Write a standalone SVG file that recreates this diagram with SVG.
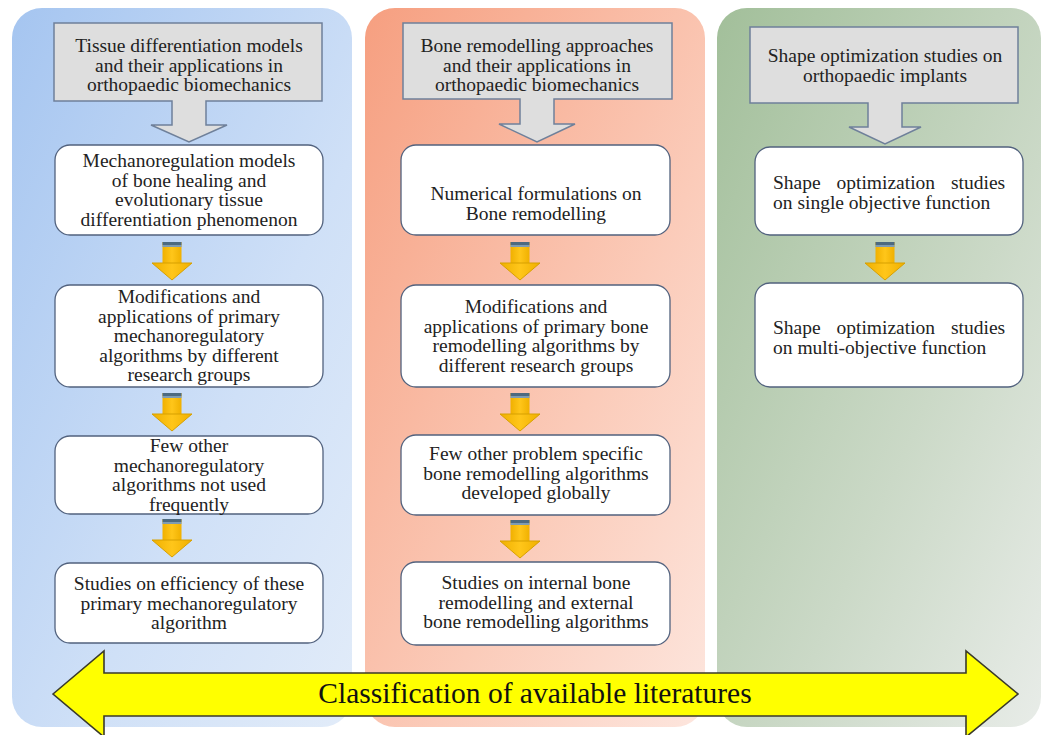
<svg xmlns="http://www.w3.org/2000/svg" width="1048" height="735" viewBox="0 0 1048 735" font-family="'Liberation Serif', 'Times New Roman', Times, 'DejaVu Serif', serif">
<defs>
<linearGradient id="gBlue" x1="0" y1="0" x2="1" y2="1">
<stop offset="0" stop-color="#a5c5f0"/>
<stop offset="0.6" stop-color="#cfe0f7"/>
<stop offset="1" stop-color="#e2ecf9"/>
</linearGradient>
<linearGradient id="gOrange" x1="0" y1="0" x2="1" y2="1">
<stop offset="0" stop-color="#f69f80"/>
<stop offset="0.6" stop-color="#fbcbb9"/>
<stop offset="1" stop-color="#fde6de"/>
</linearGradient>
<linearGradient id="gGreen" x1="0" y1="0" x2="1" y2="1">
<stop offset="0" stop-color="#a2bf9a"/>
<stop offset="0.6" stop-color="#cbd9c7"/>
<stop offset="1" stop-color="#e8ece8"/>
</linearGradient>
<linearGradient id="gYel" x1="0" y1="0" x2="1" y2="0">
<stop offset="0" stop-color="#f0b000"/>
<stop offset="0.5" stop-color="#ffc61a"/>
<stop offset="1" stop-color="#f0b000"/>
</linearGradient>
<g id="ya">
<rect x="-9.5" y="0" width="19" height="22" fill="url(#gYel)"/>
<rect x="-9.5" y="0" width="19" height="3" fill="#4d6a80"/>
<rect x="-9.5" y="3" width="19" height="2" fill="#7f9cb2"/>
<polygon points="-20,21 20,21 0,38" fill="url(#gYel)" stroke="#d7a000" stroke-width="1"/>
</g>
</defs>
<style>
.hdr{fill:#dedede;stroke:#6f809a;stroke-width:1.5}
.box{fill:#ffffff;stroke:#52627e;stroke-width:1.3}
text{font-family:'Liberation Serif','Times New Roman',Times,'DejaVu Serif',serif;font-size:19.5px;fill:#222;text-anchor:middle}
.j{text-anchor:start}
.big{font-size:29.5px;fill:#111}
</style>

<g id="panels">
<rect x="12" y="8" width="340" height="719" rx="30" fill="url(#gBlue)"/>
<rect x="365" y="8" width="340" height="719" rx="30" fill="url(#gOrange)"/>
<rect x="717" y="8" width="324" height="719" rx="30" fill="url(#gGreen)"/>
</g>

<g id="hdr1">
<path class="hdr" d="M54,23 H322 V101 H206 V125 H227 L189,142 L151,125 H172 V101 H54 Z"/>
<text x="189" y="52">Tissue differentiation models</text>
<text x="189" y="71.5">and their applications in</text>
<text x="189" y="91">orthopaedic biomechanics</text>
</g>
<g id="hdr2">
<path class="hdr" d="M403,23 H672 V99 H554 V124 H575 L537,142 L499,124 H520 V99 H403 Z"/>
<text x="537" y="52">Bone remodelling approaches</text>
<text x="537" y="71.5">and their applications in</text>
<text x="537" y="91">orthopaedic biomechanics</text>
</g>
<g id="hdr3">
<path class="hdr" d="M750,27 H1018 V103 H902 V127 H921 L885,144 L849,127 H868 V103 H750 Z"/>
<text x="885" y="62">Shape optimization studies on</text>
<text x="885" y="81.5">orthopaedic implants</text>
</g>

<g id="l1">
<rect class="box" x="55" y="145" width="268" height="90" rx="15"/>
<text x="189" y="167">Mechanoregulation models</text>
<text x="189" y="186.5">of bone healing and</text>
<text x="189" y="206">evolutionary tissue</text>
<text x="189" y="225.5">differentiation phenomenon</text>
</g>
<g id="l2">
<rect class="box" x="55" y="285" width="268" height="102" rx="15"/>
<text x="189" y="303">Modifications and</text>
<text x="189" y="322.5">applications of primary</text>
<text x="189" y="342">mechanoregulatory</text>
<text x="189" y="361.5">algorithms by different</text>
<text x="189" y="381">research groups</text>
</g>
<g id="l3">
<rect class="box" x="55" y="436" width="268" height="78" rx="15"/>
<text x="189" y="452">Few other</text>
<text x="189" y="471.5">mechanoregulatory</text>
<text x="189" y="491">algorithms not used</text>
<text x="189" y="510.5">frequently</text>
</g>
<g id="l4">
<rect class="box" x="55" y="563" width="268" height="80" rx="15"/>
<text x="189" y="590">Studies on efficiency of these</text>
<text x="189" y="609.5">primary mechanoregulatory</text>
<text x="189" y="629">algorithm</text>
</g>

<g id="m1">
<rect class="box" x="401" y="145" width="269" height="90" rx="15"/>
<text x="536" y="200">Numerical formulations on</text>
<text x="536" y="219.5">Bone remodelling</text>
</g>
<g id="m2">
<rect class="box" x="401" y="285" width="269" height="102" rx="15"/>
<text x="536" y="313">Modifications and</text>
<text x="536" y="332.5">applications of primary bone</text>
<text x="536" y="352">remodelling algorithms by</text>
<text x="536" y="371.5">different research groups</text>
</g>
<g id="m3">
<rect class="box" x="401" y="435" width="269" height="80" rx="15"/>
<text x="536" y="460">Few other problem specific</text>
<text x="536" y="479.5">bone remodelling algorithms</text>
<text x="536" y="499">developed globally</text>
</g>
<g id="m4">
<rect class="box" x="401" y="562" width="269" height="83" rx="15"/>
<text x="536" y="589">Studies on internal bone</text>
<text x="536" y="608.5">remodelling and external</text>
<text x="536" y="628">bone remodelling algorithms</text>
</g>

<g id="r1">
<rect class="box" x="755" y="147" width="268" height="88" rx="15"/>
<text class="j" x="773" y="189" word-spacing="11">Shape optimization studies</text>
<text class="j" x="773" y="208.5">on single objective function</text>
</g>
<g id="r2">
<rect class="box" x="755" y="283" width="268" height="104" rx="15"/>
<text class="j" x="773" y="334" word-spacing="11">Shape optimization studies</text>
<text class="j" x="773" y="353.5">on multi-objective function</text>
</g>

<g id="connectors">
<use href="#ya" x="172" y="242"/>
<use href="#ya" x="172" y="393"/>
<use href="#ya" x="172" y="519"/>
<use href="#ya" x="520" y="242"/>
<use href="#ya" x="520" y="393"/>
<use href="#ya" x="520" y="520"/>
<use href="#ya" x="885" y="242"/>
</g>

<g id="classification">
<path d="M53,694 L104,651 L104,673 L966,673 L966,651 L1018,694 L966,737 L966,716 L104,716 L104,737 Z" fill="#ffff00" stroke="#3a3a2a" stroke-width="1.6"/>
<text class="big" x="535" y="703">Classification of available literatures</text>
</g>
</svg>
